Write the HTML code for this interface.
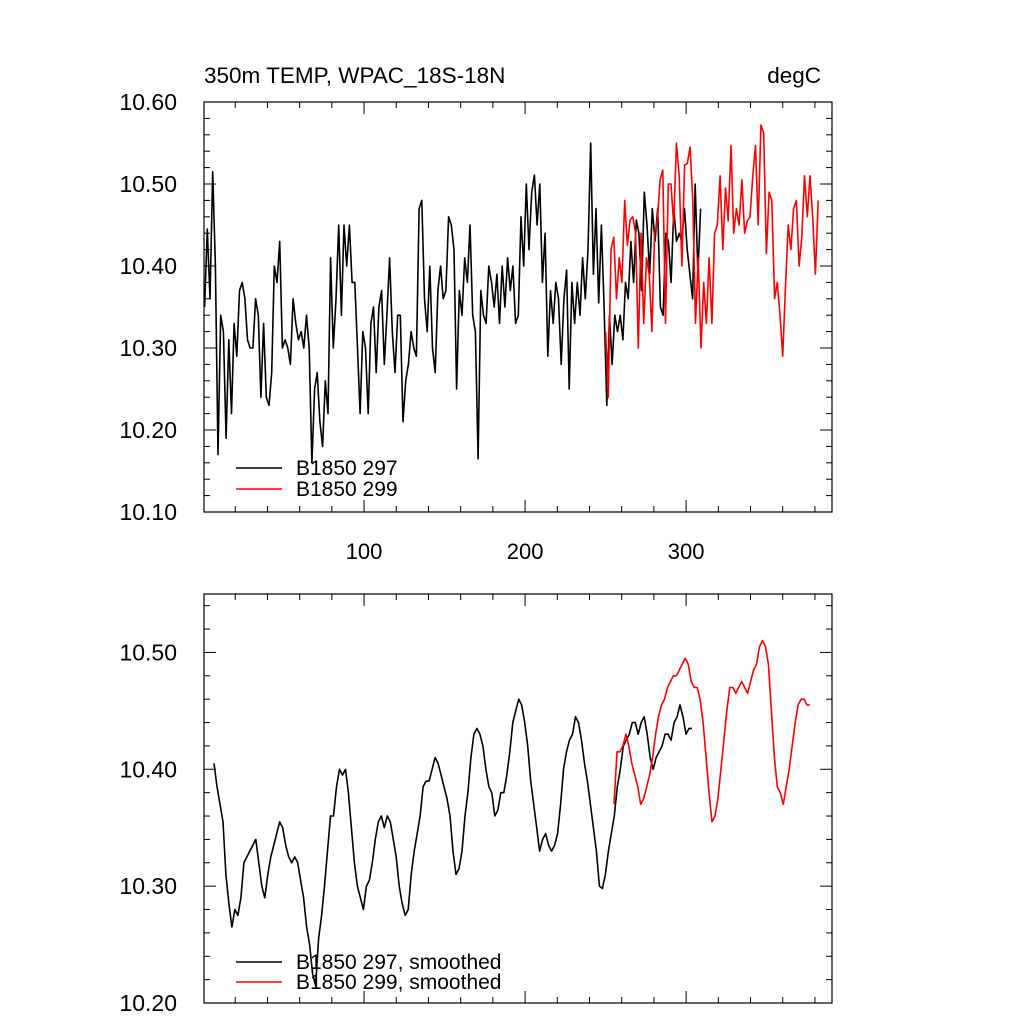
<!DOCTYPE html>
<html><head><meta charset="utf-8"><style>
html,body{margin:0;padding:0;background:#fff;}
svg{display:block;font-family:"Liberation Sans",Arial,sans-serif;}
</style></head><body>
<svg id="chart" width="1024" height="1024" viewBox="0 0 1024 1024">
<text x="204" y="83" font-size="22.5">350m TEMP, WPAC_18S-18N</text>
<text x="821" y="83" font-size="22.5" text-anchor="end">degC</text>
<g id="topPanel"></g>
<g id="botPanel"></g>
</svg>
<script>
const xTicks=[100,200,300];
const topYTicks=[10.10,10.20,10.30,10.40,10.50,10.60];
const botYTicks=[10.20,10.30,10.40,10.50];
const black297=[10.35,10.445,10.36,10.515,10.40,10.17,10.34,10.32,10.19,10.31,10.22,10.33,10.29,10.37,10.38,10.36,10.31,10.30,10.30,10.36,10.34,10.24,10.33,10.24,10.23,10.27,10.40,10.38,10.43,10.30,10.31,10.30,10.28,10.36,10.33,10.31,10.32,10.30,10.34,10.30,10.16,10.25,10.27,10.21,10.18,10.26,10.22,10.41,10.30,10.36,10.45,10.34,10.45,10.40,10.45,10.38,10.38,10.30,10.22,10.32,10.30,10.22,10.33,10.35,10.27,10.35,10.37,10.28,10.34,10.41,10.32,10.27,10.34,10.34,10.21,10.26,10.28,10.32,10.30,10.29,10.47,10.48,10.36,10.32,10.40,10.30,10.27,10.37,10.40,10.36,10.37,10.46,10.45,10.42,10.25,10.37,10.34,10.41,10.38,10.45,10.34,10.32,10.165,10.37,10.34,10.33,10.40,10.38,10.35,10.39,10.33,10.40,10.35,10.41,10.37,10.40,10.33,10.34,10.46,10.40,10.50,10.42,10.49,
10.511,10.45,10.50,10.38,10.44,10.29,10.37,10.33,10.38,10.36,10.28,10.36,10.395,10.25,10.38,10.33,10.38,10.34,10.41,10.36,10.42,10.55,10.39,10.47,10.355,10.45,10.35,10.23,10.34,10.28,10.34,10.32,10.34,10.31,10.38,10.36,10.43,10.38,10.456,10.44,10.37,10.49,10.45,10.39,10.47,10.43,10.47,10.35,10.34,10.44,10.43,10.38,10.47,10.43,10.44,10.43,10.47,10.42,10.39,10.36,10.50,10.39,10.47];
const red299=[10.32,10.24,10.42,10.435,10.36,10.41,10.38,10.48,10.425,10.456,10.46,10.44,10.30,10.44,10.33,10.41,10.39,10.32,10.44,10.456,10.505,10.517,10.33,10.50,10.50,10.45,10.55,10.51,10.40,10.523,10.525,10.545,10.48,10.33,10.41,10.30,10.38,10.33,10.41,10.33,10.44,10.45,10.51,10.42,10.495,10.455,10.547,10.44,10.47,10.45,10.505,10.44,10.455,10.46,10.51,10.547,10.45,10.572,10.562,10.415,10.49,10.48,10.36,10.38,10.34,10.29,10.375,10.45,10.42,10.47,10.48,10.40,10.435,10.51,10.46,10.51,10.46,10.39,10.48];
const black297Smooth=[10.405,10.385,10.37,10.355,10.31,10.285,10.265,10.28,10.275,10.29,10.32,10.325,10.33,10.335,10.34,10.32,10.30,10.29,10.31,10.325,10.335,10.345,10.355,10.35,10.335,10.325,10.32,10.325,10.32,10.305,10.29,10.265,10.25,10.225,10.215,10.255,10.275,10.30,10.33,10.36,10.36,10.385,10.40,10.395,10.40,10.38,10.35,10.32,10.30,10.29,10.28,10.30,10.305,10.32,10.34,10.355,10.36,10.35,10.36,10.355,10.34,10.325,10.30,10.285,10.275,10.28,10.31,10.33,10.345,10.36,10.385,10.39,10.39,10.40,10.41,10.405,10.395,10.385,10.375,10.36,10.33,10.31,10.315,10.33,10.36,10.38,10.41,10.43,10.435,10.43,10.42,10.40,10.385,10.38,10.36,10.365,10.38,10.38,10.395,10.415,10.44,10.45,10.46,10.455,10.44,10.42,10.39,10.37,10.35,10.33,10.34,10.345,10.335,10.33,10.335,10.345,10.37,10.40,10.415,10.425,10.43,10.445,10.44,10.425,10.405,10.39,10.37,10.35,10.33,10.30,10.298,10.31,10.33,10.345,10.36,10.385,10.40,10.42,10.425,10.43,10.44,10.44,10.43,10.44,10.445,10.43,10.41,10.40,10.41,10.415,10.42,10.43,10.43,10.425,10.44,10.445,10.455,10.445,10.43,10.435,10.435];
const red299Smooth=[10.37,10.415,10.415,10.42,10.43,10.42,10.405,10.395,10.385,10.37,10.375,10.385,10.395,10.41,10.43,10.445,10.455,10.46,10.47,10.475,10.48,10.48,10.485,10.49,10.495,10.49,10.475,10.47,10.47,10.46,10.44,10.41,10.38,10.355,10.36,10.375,10.40,10.425,10.45,10.47,10.47,10.465,10.47,10.475,10.47,10.465,10.475,10.485,10.49,10.505,10.51,10.505,10.49,10.45,10.41,10.385,10.38,10.37,10.385,10.40,10.42,10.44,10.455,10.46,10.46,10.455,10.455];
const NS='http://www.w3.org/2000/svg';
const X0=204,X1=832,XMIN=0.6,XMAX=390.6;
const sx=v=>X0+(v-XMIN)/(XMAX-XMIN)*(X1-X0);
function mk(p,t,a){const e=document.createElementNS(NS,t);for(const k in a)e.setAttribute(k,a[k]);p.appendChild(e);return e;}
function panel(g,Y0,Y1,ymin,ymax,yt,showX,name){
  const sy=v=>Y1-(v-ymin)/(ymax-ymin)*(Y1-Y0);
  const fr=mk(g,'rect',{x:X0,y:Y0,width:X1-X0,height:Y1-Y0,fill:'none',stroke:'#000','stroke-width':1.2});
  
  
  for(let v=20;v<XMAX;v+=20){const x=sx(v);const L=(v%100===0)?12:6;
    mk(g,'line',{x1:x,y1:Y1,x2:x,y2:Y1-L,stroke:'#000'});mk(g,'line',{x1:x,y1:Y0,x2:x,y2:Y0+L,stroke:'#000'});}
  xTicks.forEach(v=>{if(showX){const t=mk(g,'text',{x:sx(v),y:Y1+47,'font-size':22,'text-anchor':'middle'});t.textContent=v;
    
    }});
  for(let v=Math.round(ymin*100);v<=Math.round(ymax*100)+0.1;v+=2){const val=v/100;const y=sy(val);const maj=(v%10===0);const L=maj?12:6;
    mk(g,'line',{x1:X0,y1:y,x2:X0+L,y2:y,stroke:'#000'});mk(g,'line',{x1:X1,y1:y,x2:X1-L,y2:y,stroke:'#000'});}
  yt.forEach(v=>{const t=mk(g,'text',{x:X0-27,y:sy(v)+8,'font-size':23,'text-anchor':'end'});t.textContent=v.toFixed(2);
    
    });
  return sy;
}
function series(g,sy,vals,t0,t1,col,name){
  const n=vals.length;const pts=vals.map((v,i)=>sx(t0+(t1-t0)*i/(n-1)).toFixed(1)+','+sy(v).toFixed(1)).join(' ');
  const p=mk(g,'polyline',{points:pts,fill:'none',stroke:col,'stroke-width':1.6,'stroke-linejoin':'round'});
  
  
}
function legend(g,y,col,label,name){
  const l=mk(g,'line',{x1:236,y1:y,x2:282,y2:y,stroke:col,'stroke-width':1.6});
  
  
  const t=mk(g,'text',{x:296,y:y+7,'font-size':21});t.textContent=label;
  
  
}
const topG=document.getElementById('topPanel'),botG=document.getElementById('botPanel');
const syT=panel(topG,102,512,10.10,10.60,topYTicks,true,'top-panel');
series(topG,syT,black297,1,309,'#000','series-b1850-297');
series(topG,syT,red299,250,382,'#f00','series-b1850-299');
legend(topG,468,'#000','B1850 297','legend-entry-297');
legend(topG,489,'#f00','B1850 299','legend-entry-299');
const syB=panel(botG,594,1003,10.20,10.55,botYTicks,false,'bottom-panel');
series(botG,syB,black297Smooth,(214-X0)/(X1-X0)*(XMAX-XMIN)+XMIN,(692-X0)/(X1-X0)*(XMAX-XMIN)+XMIN,'#000','series-b1850-297-smoothed');
series(botG,syB,red299Smooth,(614-X0)/(X1-X0)*(XMAX-XMIN)+XMIN,(810-X0)/(X1-X0)*(XMAX-XMIN)+XMIN,'#f00','series-b1850-299-smoothed');
legend(botG,962,'#000','B1850 297, smoothed','legend-entry-297-smoothed');
legend(botG,982,'#f00','B1850 299, smoothed','legend-entry-299-smoothed');
</script>
</body></html>
